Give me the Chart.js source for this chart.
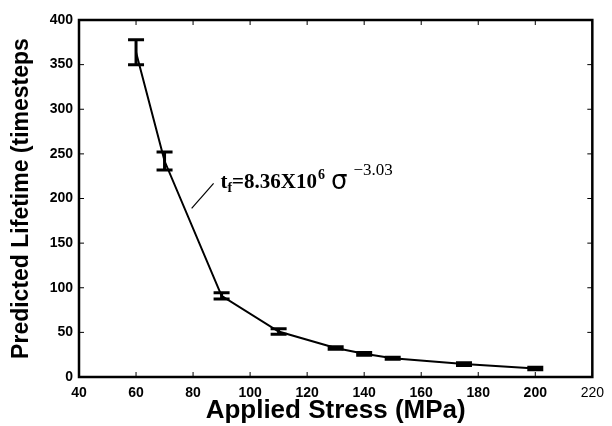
<!DOCTYPE html>
<html lang="en">
<head>
    <meta charset="UTF-8">
    <title>Predicted Lifetime vs Applied Stress</title>
    <script src="https://cdn.jsdelivr.net/npm/chart.js"></script>
    <style>
        html, body { margin: 0; padding: 0; background: #fff; }
        canvas { display: block; }
    </style>
</head>
<body>
    <canvas id="lifetimeChart" width="612" height="426"></canvas>

    <script>
        // values
        const stress = [60, 70, 90, 110, 130, 140, 150, 175, 200];
        const lifetime = [364, 242, 91, 51, 32.5, 26, 21, 14.5, 9.5];
        const errors = [14, 10, 3.5, 3, 1.5, 1.5, 1, 1.5, 1.5];
        const xTicks = [40, 60, 80, 100, 120, 140, 160, 180, 200, 220];
        const yTicks = [0, 50, 100, 150, 200, 250, 300, 350, 400];

        const points = stress.map((x, i) => ({ x: x, y: lifetime[i] }));

        // frame, inward ticks, error bars and the fit label
        const extras = {
            id: 'extras',
            afterDatasetsDraw(chart) {
                const ctx = chart.ctx;
                const a = chart.chartArea;
                const xs = chart.scales.x;
                const ys = chart.scales.y;
                ctx.save();
                ctx.strokeStyle = '#000';

                // error bars
                ctx.lineWidth = 3;
                stress.forEach((x, i) => {
                    const px = xs.getPixelForValue(x);
                    const top = ys.getPixelForValue(lifetime[i] + errors[i]);
                    const bot = ys.getPixelForValue(lifetime[i] - errors[i]);
                    ctx.beginPath();
                    ctx.moveTo(px, top); ctx.lineTo(px, bot);
                    ctx.moveTo(px - 8, top); ctx.lineTo(px + 8, top);
                    ctx.moveTo(px - 8, bot); ctx.lineTo(px + 8, bot);
                    ctx.stroke();
                });

                // inward ticks
                ctx.lineWidth = 1;
                xTicks.forEach(v => {
                    const px = xs.getPixelForValue(v);
                    ctx.beginPath();
                    ctx.moveTo(px, a.bottom); ctx.lineTo(px, a.bottom - 5);
                    ctx.moveTo(px, a.top); ctx.lineTo(px, a.top + 5);
                    ctx.stroke();
                });
                yTicks.forEach(v => {
                    const py = ys.getPixelForValue(v);
                    ctx.beginPath();
                    ctx.moveTo(a.left, py); ctx.lineTo(a.left + 5, py);
                    ctx.moveTo(a.right, py); ctx.lineTo(a.right - 5, py);
                    ctx.stroke();
                });

                // frame
                ctx.lineWidth = 2.5;
                ctx.strokeRect(a.left, a.top, a.right - a.left, a.bottom - a.top);

                // fit equation with leader line
                ctx.lineWidth = 1.2;
                ctx.beginPath();
                ctx.moveTo(xs.getPixelForValue(79.5), ys.getPixelForValue(189));
                ctx.lineTo(xs.getPixelForValue(87.2), ys.getPixelForValue(217));
                ctx.stroke();

                let tx = xs.getPixelForValue(89.6);
                const ty = ys.getPixelForValue(212);
                ctx.fillStyle = '#000';
                ctx.textBaseline = 'alphabetic';
                ctx.textAlign = 'left';
                ctx.font = 'bold 21px "Liberation Serif", serif';
                ctx.fillText('t', tx, ty);
                tx += ctx.measureText('t').width;
                ctx.font = 'bold 14px "Liberation Serif", serif';
                ctx.fillText('f', tx, ty + 4);
                tx += ctx.measureText('f').width;
                ctx.font = 'bold 21px "Liberation Serif", serif';
                ctx.fillText('=8.36X10', tx, ty);
                tx += ctx.measureText('=8.36X10').width;
                ctx.font = 'bold 14px "Liberation Serif", serif';
                ctx.fillText('6', tx + 1, ty - 9);
                tx += ctx.measureText('6').width + 7;
                ctx.font = '26px "DejaVu Sans", sans-serif';
                ctx.fillText('\u03c3', tx, ty + 1);
                tx += ctx.measureText('\u03c3').width + 6;
                ctx.font = '17px "Liberation Serif", serif';
                ctx.fillText('\u22123.03', tx, ty - 13);
                ctx.restore();
            }
        };

        new Chart(document.getElementById('lifetimeChart'), {
            type: 'scatter',
            data: {
                datasets: [{
                    data: points,
                    showLine: true,
                    borderColor: '#000',
                    borderWidth: 2,
                    pointRadius: 0,
                    tension: 0
                }]
            },
            options: {
                responsive: false,
                animation: false,
                layout: { padding: { top: 20, right: 14, left: 0, bottom: 0 } },
                plugins: { legend: { display: false }, tooltip: { enabled: false } },
                scales: {
                    x: {
                        type: 'linear',
                        min: 40, max: 220,
                        afterBuildTicks: s => { s.ticks = xTicks.map(v => ({ value: v })); },
                        afterFit: s => { s.height = 49; },
                        grid: { display: false, drawTicks: false },
                        border: { display: false },
                        ticks: {
                            color: '#000',
                            padding: 8,
                            maxRotation: 0,
                            autoSkip: false,
                            font: c => ({
                                family: '"Liberation Sans", Arial, sans-serif',
                                size: 14,
                                weight: c.tick && c.tick.value === 220 ? 'normal' : 'bold'
                            })
                        },
                        title: {
                            display: true,
                            text: 'Applied Stress (MPa)',
                            color: '#000',
                            padding: { top: 0, bottom: 0 },
                            font: { family: '"Liberation Sans", Arial, sans-serif', size: 26, weight: 'bold' }
                        }
                    },
                    y: {
                        min: 0, max: 400,
                        afterBuildTicks: s => { s.ticks = yTicks.map(v => ({ value: v })); },
                        afterFit: s => { s.width = 79; },
                        grid: { display: false, drawTicks: false },
                        border: { display: false },
                        ticks: {
                            color: '#000',
                            padding: 6,
                            autoSkip: false,
                            font: { family: '"Liberation Sans", Arial, sans-serif', size: 14, weight: 'bold' }
                        },
                        title: {
                            display: true,
                            text: 'Predicted Lifetime (timesteps',
                            color: '#000',
                            padding: { top: 8, bottom: 0 },
                            font: { family: '"Liberation Sans", Arial, sans-serif', size: 23, weight: 'bold' }
                        }
                    }
                }
            },
            plugins: [extras]
        });
    </script>
</body>
</html>
